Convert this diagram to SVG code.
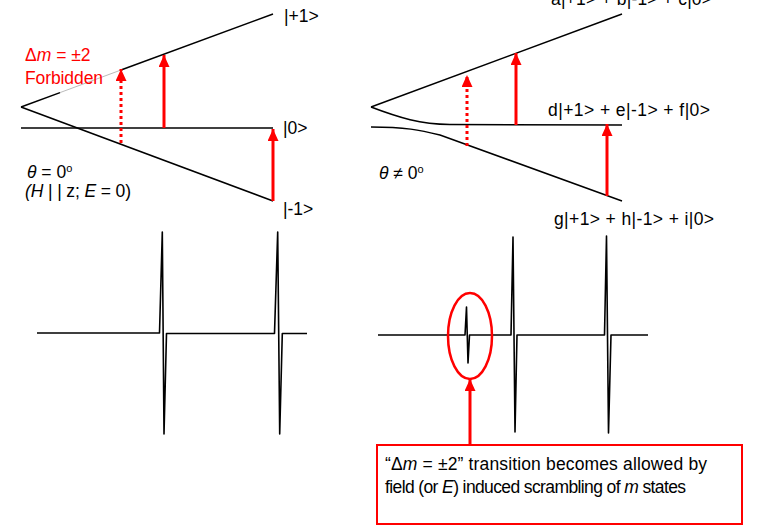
<svg xmlns="http://www.w3.org/2000/svg" width="764" height="531" viewBox="0 0 764 531">
<defs>
<marker id="ah" markerUnits="userSpaceOnUse" markerWidth="12" markerHeight="12" refX="12" refY="5.5" orient="auto">
<path d="M0,0 L12,5.5 L0,11 z" fill="#ff0000"/>
</marker>
<style>
.ln{fill:none;stroke:#000;stroke-width:1.5}
.sp{fill:none;stroke:#000;stroke-width:1.6;stroke-linejoin:round}
.ar{stroke:#ff0000;stroke-width:3;fill:none;marker-end:url(#ah)}
.dt{stroke-dasharray:3,3}
text{font-family:"Liberation Sans",Arial,sans-serif;font-size:17.5px;fill:#000}
.red{fill:#ff0000}
</style>
</defs>
<rect width="764" height="531" fill="#fff"/>
<g id="left-levels">
<path class="ln" d="M21,107 L60,92.6"/>
<path d="M60,92.6 L121,70" stroke="#bbb" stroke-width="1" fill="none"/>
<path class="ln" d="M121,70 L273,14"/>
<path class="ln" d="M21,107 L273,201"/>
<path class="ln" d="M21,128 L273,128" stroke="#444"/>
</g>
<g id="left-labels">
<text x="284" y="22">|+1&gt;</text>
<text x="283" y="134">|0&gt;</text>
<text x="283" y="215">|-1&gt;</text>
<text x="25" y="61" class="red">Δ<tspan font-style="italic">m</tspan> = ±2</text>
<text x="25" y="84" class="red" textLength="78">Forbidden</text>
<text x="27" y="178"><tspan font-style="italic">θ</tspan> = 0<tspan font-size="11" dy="-6">o</tspan></text>
<text x="25" y="197" font-style="italic" textLength="106">(H <tspan font-style="normal">| | z;</tspan> E <tspan font-style="normal">= 0)</tspan></text>
</g>
<g id="right-levels">
<path class="ln" d="M371,107 L622,14"/>
<path class="ln" d="M371,107 C400,118 420,124 450,124.5 L622,125"/>
<path class="ln" d="M371,127 C405,127 420,130 440,135 L622,201"/>
</g>
<g id="right-labels">
<text x="551" y="5" textLength="161">a|+1&gt; + b|-1&gt; + c|0&gt;</text>
<text x="548" y="116" textLength="162">d|+1&gt; + e|-1&gt; + f|0&gt;</text>
<text x="554" y="225" textLength="160">g|+1&gt; + h|-1&gt; + i|0&gt;</text>
<text x="379" y="179"><tspan font-style="italic">θ</tspan> ≠ 0<tspan font-size="11" dy="-6">o</tspan></text>
</g>
<g id="connectors">
<line class="ar dt" x1="121" y1="143" x2="121" y2="69"/>
<line class="ar" x1="164" y1="128" x2="164" y2="55"/>
<line class="ar" x1="273" y1="201" x2="273" y2="129"/>
<line class="ar dt" x1="467" y1="146" x2="467" y2="75"/>
<line class="ar" x1="516" y1="125" x2="516" y2="53"/>
<line class="ar" x1="607" y1="196" x2="607" y2="124"/>
<line class="ar" x1="470" y1="445" x2="470" y2="379"/>
</g>
<g id="spectrum-left">
<path class="sp" d="M37,333 L159.5,333 L162.3,232 L164,434 L166.5,333.5 L274.5,333.5 L277.7,232 L279.7,434 L282.3,333.5 L307,333.5"/>
</g>
<g id="spectrum-right">
<path class="sp" d="M378,335 L465,335 L466.5,307 L468,363 L469.5,335 L511,335 L513,237 L515,432 L517,335 L604.5,335 L606.5,236 L608.5,433 L611,335 L648,335"/>
<ellipse cx="470" cy="336" rx="22" ry="43" fill="none" stroke="#ff0000" stroke-width="2.5"/>
</g>
<g id="note">
<rect x="377" y="445" width="365" height="79" fill="#fff" stroke="#ff0000" stroke-width="2"/>
<text x="385" y="470" textLength="322">“Δ<tspan font-style="italic">m</tspan> = ±2” transition becomes allowed by</text>
<text x="385" y="493" textLength="301">field (or <tspan font-style="italic">E</tspan>) induced scrambling of <tspan font-style="italic">m</tspan> states</text>
</g>
</svg>
